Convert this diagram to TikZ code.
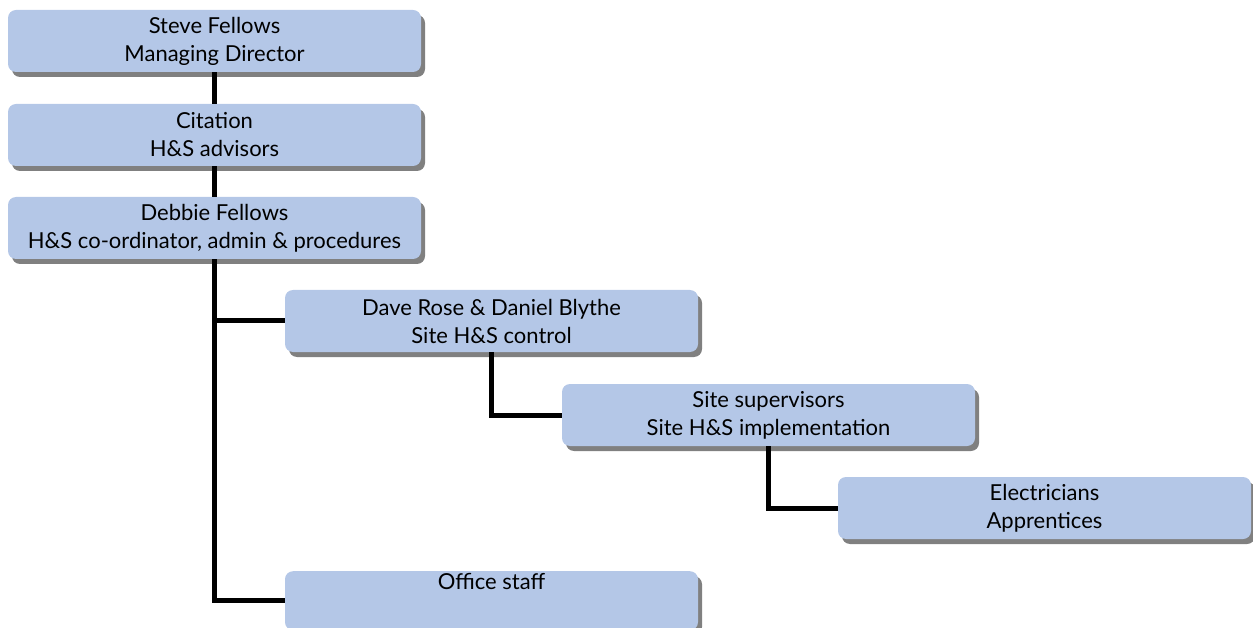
\documentclass[tikz,border=0pt]{standalone}
\usepackage{fontspec}
\setmainfont{Lato}
\usetikzlibrary{shadows}

\definecolor{boxblue}{RGB}{180,199,231}
\definecolor{shadowgray}{RGB}{128,128,128}

\tikzset{
	orgbox/.style = {fill = boxblue, rounded corners = 8pt,
		minimum width = 413pt, minimum height = 62pt, align = center,
		font = \fontsize{22}{28}\selectfont,
		drop shadow = {shadow xshift = 4pt, shadow yshift = -5pt,
			fill = shadowgray, opacity = 1}},
	link/.style = {line width = 5pt}
}

\begin{document}
\begin{tikzpicture}[x = 1pt, y = -1pt]

	% Page size
	
	\useasboundingbox (0, 0) rectangle (1253, 628);
	
	% The boxes
	
	\node [orgbox] (steve) at (214.5, 41) {Steve Fellows\\Managing Director};
	\node [orgbox] (citation) at (214.5, 135) {Citation\\H\&S advisors};
	\node [orgbox] (debbie) at (214.5, 228) {Debbie Fellows\\H\&S co-ordinator, admin \& procedures};
	\node [orgbox] (dave) at (491.5, 321) {Dave Rose \& Daniel Blythe\\Site H\&S control};
	\node [orgbox] (site) at (768.5, 415) {Site supervisors\\Site H\&S implementation};
	\node [orgbox] (elec) at (1044.5, 508) {Electricians\\Apprentices};
	\node [orgbox, anchor = north, minimum height = 0pt, inner ysep = 2pt,
		text height = 16pt, text depth = 39pt] (office) at (491.5, 571) {Office staff};
	
	% The links
	
	\begin{scope}[link]
	
		\draw (steve) -- (citation);
		\draw (citation) -- (debbie);
		\draw (debbie.south) -- (debbie.south |- office.west) -- (office.west);
		\draw (debbie.south |- dave.west) -- (dave.west);
		\draw (dave.south) |- (site.west);
		\draw (site.south) |- (elec.west);
		
	\end{scope}

\end{tikzpicture}
\end{document}
